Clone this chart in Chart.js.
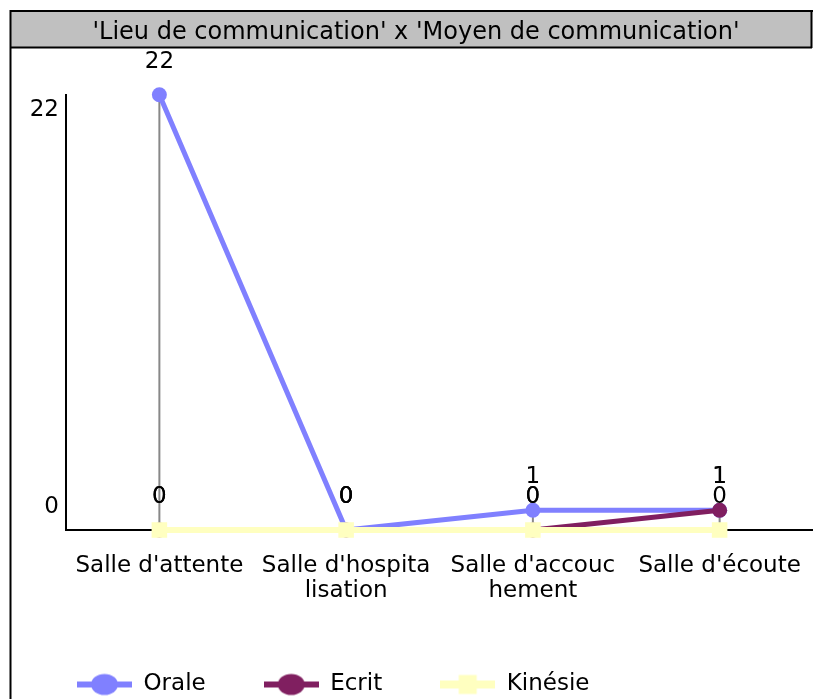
<!DOCTYPE html>
<html><head><meta charset="utf-8">
<script src="https://cdn.jsdelivr.net/npm/chart.js@4/dist/chart.umd.min.js"></script>
<style>html,body{margin:0;padding:0;background:#fff;overflow:hidden}#wrap{position:absolute;left:0;top:0;width:813px;height:699px}</style>
</head><body><div id="wrap"><canvas id="c" width="813" height="699"></canvas></div>
<script>
const chartTitle = "'Lieu de communication' x 'Moyen de communication'";
const categories = [["Salle d'attente"], ["Salle d'hospita", "lisation"], ["Salle d'accouc", "hement"], ["Salle d'écoute"]];
const seriesNames = ["Orale", "Ecrit", "Kinésie"];
const oraleValues = [22, 0, 1, 1];
const ecritValues = [0, 0, 0, 1];
const kinesieValues = [0, 0, 0, 0];
const yTickValues = [0, 22];

const FONT = "'DejaVu Sans', sans-serif";
const COL_ORALE = '#8080ff', COL_ECRIT = '#801f60', COL_KIN = '#ffffc0';

function legendIcon(color, shape, lineW) {
  const c = document.createElement('canvas');
  c.width = 55; c.height = 24;
  const g = c.getContext('2d');
  g.fillStyle = color;
  g.fillRect(0, 12 - lineW / 2, 55, lineW);
  if (shape === 'circle') {
    g.beginPath(); g.ellipse(27.5, 12, 13.5, 10.5, 0, 0, Math.PI * 2); g.fill();
  } else {
    g.fillRect(18.5, 2.5, 18, 19);
  }
  return c;
}
const icons = [legendIcon(COL_ORALE, 'circle', 6), legendIcon(COL_ECRIT, 'circle', 6), legendIcon(COL_KIN, 'rect', 8)];

const framePlugin = {
  id: 'frame',
  beforeDraw(chart) {
    const ctx = chart.ctx, W = chart.width, H = chart.height;
    ctx.save();
    ctx.fillStyle = '#c0c0c0';
    ctx.fillRect(11, 12, W - 12, 35);
    ctx.strokeStyle = '#000';
    ctx.lineWidth = 2;
    ctx.beginPath();
    ctx.moveTo(10, 11); ctx.lineTo(W, 11);
    ctx.moveTo(10, 47.5); ctx.lineTo(W - 1, 47.5);
    ctx.moveTo(W - 1.5, 11); ctx.lineTo(W - 1.5, 48);
    ctx.moveTo(10.5, 10); ctx.lineTo(10.5, H);
    ctx.stroke();
    ctx.restore();
  }
};

const dropLinePlugin = {
  id: 'dropLines',
  beforeDatasetsDraw(chart) {
    const ctx = chart.ctx, xs = chart.scales.x, ys = chart.scales.y;
    ctx.save();
    ctx.strokeStyle = '#888888';
    ctx.lineWidth = 2;
    categories.forEach((c, i) => {
      const top = Math.max(...chart.data.datasets.map(d => d.data[i]));
      const x = xs.getPixelForValue(i);
      ctx.beginPath();
      ctx.moveTo(x, ys.getPixelForValue(top));
      ctx.lineTo(x, ys.getPixelForValue(0));
      ctx.stroke();
    });
    ctx.restore();
  }
};

const valueLabelPlugin = {
  id: 'valueLabels',
  afterDatasetsDraw(chart) {
    const ctx = chart.ctx;
    ctx.save();
    ctx.fillStyle = '#000';
    ctx.font = '23px ' + FONT;
    ctx.textAlign = 'center';
    ctx.textBaseline = 'middle';
    chart.data.datasets.forEach((ds, di) => {
      const meta = chart.getDatasetMeta(di);
      meta.data.forEach((pt, i) => {
        ctx.fillText(String(ds.data[i]), pt.x, pt.y - 33);
      });
    });
    ctx.restore();
  }
};

Chart.defaults.color = '#000';
Chart.defaults.font.family = FONT;

new Chart(document.getElementById('c'), {
  type: 'line',
  data: {
    labels: categories,
    datasets: [
      { label: seriesNames[0], data: oraleValues, borderColor: COL_ORALE, backgroundColor: COL_ORALE, borderWidth: 5,
        pointStyle: 'circle', pointRadius: 7.5, pointBorderWidth: 0, order: 3, clip: false },
      { label: seriesNames[1], data: ecritValues, borderColor: COL_ECRIT, backgroundColor: COL_ECRIT, borderWidth: 5,
        pointStyle: 'circle', pointRadius: 7.5, pointBorderWidth: 0, order: 2, clip: false },
      { label: seriesNames[2], data: kinesieValues, borderColor: COL_KIN, backgroundColor: COL_KIN, borderWidth: 6,
        pointStyle: 'rect', pointRadius: 11, pointBorderWidth: 0, order: 1, clip: false }
    ]
  },
  options: {
    responsive: false,
    animation: false,
    events: [],
    layout: { autoPadding: false, padding: { left: 19, right: 0, top: 12, bottom: -7 } },
    scales: {
      x: {
        offset: true,
        grid: { display: false },
        border: { display: true, color: '#000', width: 2 },
        ticks: { font: { size: 23, lineHeight: '25px' }, padding: 16, maxRotation: 0, autoSkip: false, color: '#000' },
        afterFit(scale) { scale.height = 85; scale.paddingLeft = 0; scale.paddingRight = 0; }
      },
      y: {
        min: 0, max: 22,
        grid: { display: false, drawTicks: false },
        border: { display: true, color: '#000', width: 2 },
        afterBuildTicks(axis) { axis.ticks = yTickValues.map(v => ({ value: v })); },
        afterFit(scale) { scale.width = 47; },
        ticks: {
          padding: 7,
          color: '#000',
          font: (c) => ({ size: 23, family: FONT, lineHeight: (c.tick && c.tick.value === 0) ? '46px' : '30px' }),
          callback: (v) => v === 0 ? [String(v), ''] : ['', String(v)]
        }
      }
    },
    plugins: {
      tooltip: { enabled: false },
      title: {
        display: true, text: chartTitle, color: '#000',
        font: { size: 24, weight: 'normal', family: FONT, lineHeight: 1.2 },
        padding: { top: 6, bottom: 48 }
      },
      legend: {
        position: 'bottom', align: 'start',
        labels: {
          usePointStyle: true, pointStyleWidth: 55, padding: 58,
          font: { size: 23, family: FONT }, color: '#000',
          sort: (a, b) => a.datasetIndex - b.datasetIndex,
          generateLabels(chart) {
            return chart.data.datasets.map((ds, i) => ({
              text: ds.label, datasetIndex: i, pointStyle: icons[i],
              fillStyle: ds.backgroundColor, strokeStyle: ds.borderColor, lineWidth: 0, hidden: false
            }));
          }
        }
      }
    }
  },
  plugins: [framePlugin, dropLinePlugin, valueLabelPlugin]
});
</script>
</body></html>
